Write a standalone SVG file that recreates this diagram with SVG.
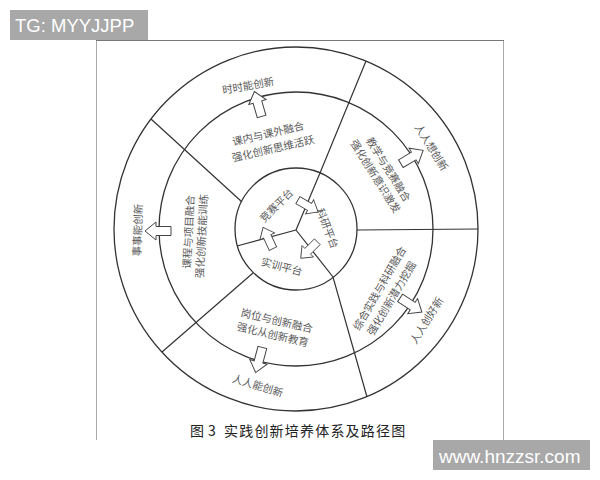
<svg xmlns="http://www.w3.org/2000/svg" width="600" height="480" viewBox="0 0 600 480">
<style>
.ring{fill:none;stroke:#333;stroke-width:1.3}
.div{fill:none;stroke:#333;stroke-width:1.2}
.t{font-family:"Noto Sans CJK SC","Noto Sans",sans-serif;font-size:10.5px;fill:#5a5a5a;text-anchor:middle;dominant-baseline:central}
.cap{font-family:"Noto Sans CJK SC","Noto Sans",sans-serif;font-size:14px;fill:#222}
.wm{font-family:"Liberation Sans",Arial,sans-serif;fill:#fff}
.arr{fill:#fff;stroke:#444;stroke-width:1}
</style>
<defs>
<path id="blk" d="M -13,-4.5 L 2,-4.5 L 2,-9 L 13,0 L 2,9 L 2,4.5 L -13,4.5 Z"/>
</defs>
<rect x="0" y="0" width="600" height="480" fill="#fff"/>
<g id="frame">
<line x1="96.5" y1="40" x2="96.5" y2="440" stroke="#aaa" stroke-width="1"/>
<line x1="503.5" y1="40" x2="503.5" y2="440" stroke="#aaa" stroke-width="1"/>
<line x1="96" y1="40.5" x2="504" y2="40.5" stroke="#777" stroke-width="1"/>
</g>
<g id="rings">
<circle class="ring" cx="296" cy="229" r="182"/>
<circle class="ring" cx="296" cy="229" r="137"/>
<circle class="ring" cx="296" cy="229" r="61"/>
<polyline class="div" points="296,230 320,173 366,61"/>
<line class="div" x1="357" y1="230" x2="478" y2="229"/>
<polyline class="div" points="296,230 333,277 367,397"/>
<line class="div" x1="296" y1="230" x2="237" y2="246"/>
<line class="div" x1="253" y1="273" x2="162" y2="352"/>
<line class="div" x1="242" y1="202" x2="151" y2="119"/>
</g>
<g id="connectors">
<use href="#blk" class="arr" transform="translate(258,104) rotate(-106)"/>
<use href="#blk" class="arr" transform="translate(412,157) rotate(-31)"/>
<use href="#blk" class="arr" transform="translate(411,305) rotate(33)"/>
<use href="#blk" class="arr" transform="translate(259,360) rotate(105)"/>
<use href="#blk" class="arr" transform="translate(158,231) rotate(180)"/>
<use href="#blk" class="arr" transform="translate(308,206) rotate(30) scale(0.9)"/>
<use href="#blk" class="arr" transform="translate(309,250) rotate(135) scale(0.9)"/>
<use href="#blk" class="arr" transform="translate(268,238) rotate(-115) scale(0.9)"/>
</g>
<g id="platform-jingsai"><text class="t" transform="translate(276,205) rotate(-45)">竞赛平台</text></g>
<g id="platform-keyan"><text class="t" transform="translate(328,228) rotate(68)">科研平台</text></g>
<g id="platform-shixun"><text class="t" transform="translate(282,266) rotate(15)">实训平台</text></g>
<g id="sector-top">
<text class="t" transform="translate(268,133) rotate(-13)">课内与课外融合</text>
<text class="t" transform="translate(273,148) rotate(-13)">强化创新思维活跃</text>
<text class="t" transform="translate(248,85) rotate(-10)">时时能创新</text>
</g>
<g id="sector-upper-right">
<text class="t" transform="translate(389,169) rotate(58)">教学与竞赛融合</text>
<text class="t" transform="translate(376,176) rotate(58)">强化创新意识激发</text>
<text class="t" transform="translate(432,147) rotate(58)">人人想创新</text>
</g>
<g id="sector-lower-right">
<text class="t" transform="translate(379,288) rotate(-60)">综合实践与科研融合</text>
<text class="t" transform="translate(391,298) rotate(-59)">强化创新潜力挖掘</text>
<text class="t" transform="translate(426,320) rotate(-58)">人人创好新</text>
</g>
<g id="sector-bottom">
<text class="t" transform="translate(277,320) rotate(13)">岗位与创新融合</text>
<text class="t" transform="translate(273,334) rotate(13)">强化从创新教育</text>
<text class="t" transform="translate(258,385) rotate(17)">人人能创新</text>
</g>
<g id="sector-left">
<text class="t" transform="translate(188,232) rotate(-87)">课程与项目融合</text>
<text class="t" transform="translate(201,236) rotate(-87)">强化创新技能训练</text>
<text class="t" transform="translate(137,230) rotate(-88)">事事能创新</text>
</g>
<g id="caption"><text class="cap" x="190" y="436" letter-spacing="1.2"><tspan>图</tspan><tspan x="208">3</tspan><tspan x="224">实践创新培养体系及路径图</tspan></text></g>
<g id="watermark-top">
<rect x="10" y="10" width="138" height="30" fill="#a8a8a8"/>
<text class="wm" x="15" y="32" font-size="18.5">TG: MYYJJPP</text>
</g>
<g id="watermark-bottom">
<rect x="433" y="440" width="157" height="30" fill="#a8a8a8"/>
<text class="wm" x="439" y="463" font-size="19">www.hnzzsr.com</text>
</g>
</svg>
